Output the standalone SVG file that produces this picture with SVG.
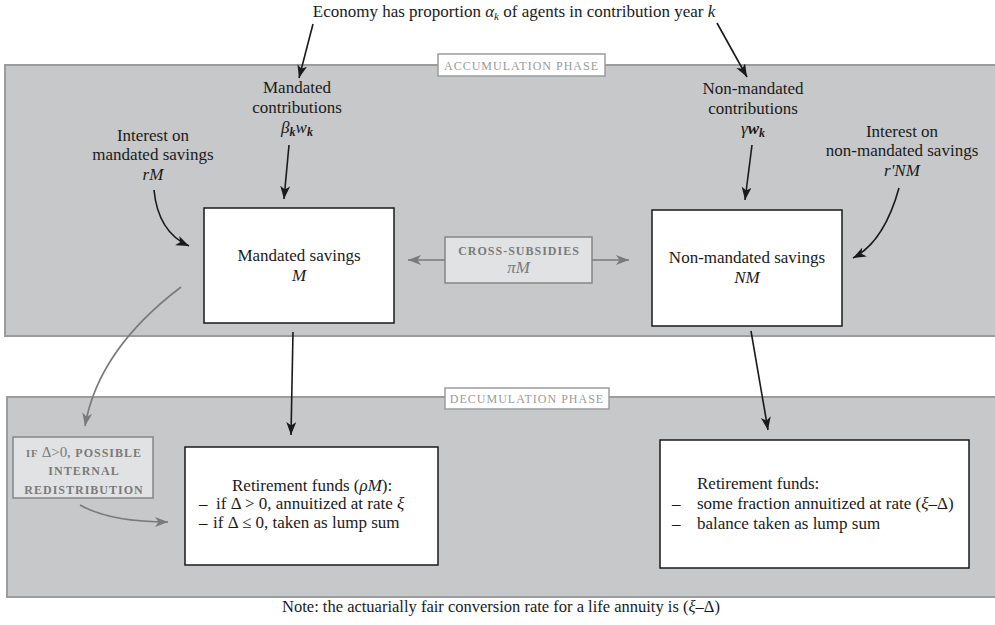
<svg xmlns="http://www.w3.org/2000/svg" width="995" height="625" viewBox="0 0 995 625" font-family="Liberation Serif, Times New Roman, serif">
<style>
text{font-family:"Liberation Serif","Times New Roman","DejaVu Serif",serif;fill:#1a1a1a}
.t{font-size:17px}
.c{text-anchor:middle}
.i{font-style:italic}
.panel{fill:#c7c8ca;stroke:#9c9c9c;stroke-width:2}
.lab{fill:#fff;stroke:#9c9c9c;stroke-width:1.5}
.labt{font-size:12px;fill:#9a9a9a;letter-spacing:1px;text-anchor:middle}
.box{fill:#fff;stroke:#1a1a1a;stroke-width:1.5}
.gbox{fill:#e1e2e4;stroke:#858585;stroke-width:1.5}
.gt{fill:#7a7a7a;font-weight:bold;font-size:12px;letter-spacing:1px;text-anchor:middle}
.blk{fill:none;stroke:#1a1a1a;stroke-width:1.6}
.gry{fill:none;stroke:#7a7a7a;stroke-width:1.6}
.note{font-size:16.5px}
</style>
<defs>
<marker id="ab" markerUnits="userSpaceOnUse" markerWidth="15" markerHeight="11" refX="13" refY="5" orient="auto">
<path d="M0,0 L13,5 L0,10 L3.5,5 z" fill="#1a1a1a"/>
</marker>
<marker id="ag" markerUnits="userSpaceOnUse" markerWidth="15" markerHeight="11" refX="13" refY="5" orient="auto">
<path d="M0,0 L13,5 L0,10 L3.5,5 z" fill="#7a7a7a"/>
</marker>
</defs>

<g id="accumulation-phase">
<rect class="panel" x="5" y="65" width="995" height="271"/>
<rect class="lab" x="438" y="54" width="167" height="22"/>
<text class="labt" x="521.5" y="69.5">ACCUMULATION PHASE</text>
</g>

<g id="decumulation-phase">
<rect class="panel" x="7" y="397" width="993" height="200"/>
<rect class="lab" x="445" y="388" width="164" height="21"/>
<text class="labt" x="527" y="403">DECUMULATION PHASE</text>
</g>

<g id="economy">
<text class="t c" x="514" y="17">Economy has proportion <tspan class="i">α</tspan><tspan class="i" font-size="11" dy="3">k</tspan><tspan dy="-3"> of agents in contribution year </tspan><tspan class="i">k</tspan></text>
</g>

<g id="mandated-contributions">
<text class="t c" x="297" y="93">Mandated</text>
<text class="t c" x="297" y="113">contributions</text>
<text class="t c" x="297" y="133"><tspan class="i">β</tspan><tspan class="i" font-weight="bold" font-size="12" dy="3">k</tspan><tspan class="i" dy="-3">w</tspan><tspan class="i" font-weight="bold" font-size="12" dy="3">k</tspan></text>
</g>

<g id="non-mandated-contributions">
<text class="t c" x="753" y="94">Non-mandated</text>
<text class="t c" x="753" y="114">contributions</text>
<text class="t c" x="753" y="134"><tspan class="i">γ</tspan><tspan class="i" font-weight="bold">w</tspan><tspan class="i" font-weight="bold" font-size="12" dy="3">k</tspan></text>
</g>

<g id="interest-mandated">
<text class="t c" x="153" y="141">Interest on</text>
<text class="t c" x="153" y="160">mandated savings</text>
<text class="t c i" x="153" y="180">rM</text>
</g>

<g id="interest-non-mandated">
<text class="t c" x="902" y="137">Interest on</text>
<text class="t c" x="902" y="156">non-mandated savings</text>
<text class="t c i" x="902" y="176">r'NM</text>
</g>

<g id="mandated-savings">
<rect class="box" x="204" y="208" width="190" height="115"/>
<text class="t c" x="299" y="261">Mandated savings</text>
<text class="t c i" x="299" y="281">M</text>
</g>

<g id="non-mandated-savings">
<rect class="box" x="652" y="210" width="190" height="116"/>
<text class="t c" x="747" y="263">Non-mandated savings</text>
<text class="t c i" x="747" y="283">NM</text>
</g>

<g id="cross-subsidies">
<rect class="gbox" x="445" y="237" width="147" height="46"/>
<text class="gt" x="519" y="255">CROSS-SUBSIDIES</text>
<text class="t c i" x="518.5" y="273" style="fill:#7a7a7a">πM</text>
</g>

<g id="redistribution">
<rect class="gbox" x="13" y="437" width="140" height="61"/>
<text class="gt" x="84" y="457"><tspan font-size="10.5">IF </tspan><tspan font-weight="normal" font-size="15" letter-spacing="0">Δ&gt;0</tspan>, POSSIBLE</text>
<text class="gt" x="84" y="475">INTERNAL</text>
<text class="gt" x="84" y="494">REDISTRIBUTION</text>
</g>

<g id="retirement-mandated">
<rect class="box" x="185" y="447" width="253" height="118"/>
<text class="t" x="232" y="491">Retirement funds (<tspan class="i">ρM</tspan>):</text>
<text class="t" x="199" y="509">–</text>
<text class="t" x="216" y="509">if Δ &gt; 0, annuitized at rate <tspan class="i">ξ</tspan></text>
<text class="t" x="199" y="528">–</text>
<text class="t" x="213" y="528">if Δ ≤ 0, taken as lump sum</text>
</g>

<g id="retirement-non-mandated">
<rect class="box" x="660" y="440" width="309" height="128"/>
<text class="t" x="697" y="489">Retirement funds:</text>
<text class="t" x="672" y="509">–</text>
<text class="t" x="697" y="509">some fraction annuitized at rate (<tspan class="i">ξ</tspan>–Δ)</text>
<text class="t" x="672" y="529">–</text>
<text class="t" x="697" y="529">balance taken as lump sum</text>
</g>

<g id="note">
<text class="note c" x="501" y="612">Note: the actuarially fair conversion rate for a life annuity is (<tspan class="i">ξ</tspan>–Δ)</text>
</g>

<g id="connectors">
<path class="blk" d="M313,24 L299,78" marker-end="url(#ab)"/>
<path class="blk" d="M717,23 L747,77" marker-end="url(#ab)"/>
<path class="blk" d="M289,145 L284,199" marker-end="url(#ab)"/>
<path class="blk" d="M154,190 Q158,232 189,246" marker-end="url(#ab)"/>
<path class="blk" d="M752,145 L745,200" marker-end="url(#ab)"/>
<path class="blk" d="M899,188 Q884,242 853,258" marker-end="url(#ab)"/>
<path class="gry" d="M445,260 L408,260" marker-end="url(#ag)"/>
<path class="gry" d="M592,260 L629,260" marker-end="url(#ag)"/>
<path class="blk" d="M293,332 L291,435" marker-end="url(#ab)"/>
<path class="blk" d="M751,331 L768,430" marker-end="url(#ab)"/>
<path class="gry" d="M181,287 Q98,350 85,426" marker-end="url(#ag)"/>
<path class="gry" d="M80,505 Q110,522 168,522" marker-end="url(#ag)"/>
</g>
</svg>
